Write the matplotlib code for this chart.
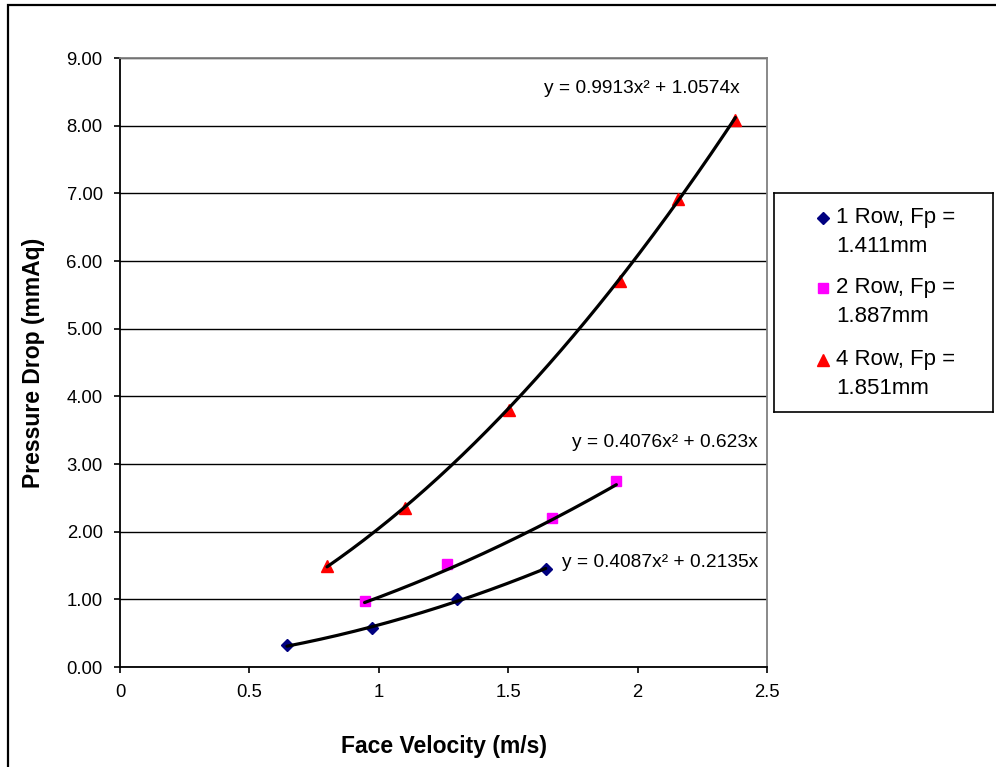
import numpy as np
import matplotlib
matplotlib.use("Agg")
import matplotlib.pyplot as plt
from matplotlib.patches import Rectangle

plt.rcParams['font.family'] = ['Liberation Sans', 'DejaVu Sans']

# Measured pressure drop vs face velocity for three coil configurations
v_1row = [0.645, 0.975, 1.302, 1.645]
dp_1row = [0.32, 0.58, 1.00, 1.45]
v_2row = [0.945, 1.262, 1.670, 1.918]
dp_2row = [0.97, 1.52, 2.20, 2.75]
v_4row = [0.800, 1.100, 1.503, 1.932, 2.157, 2.378]
dp_4row = [1.49, 2.35, 3.80, 5.70, 6.92, 8.08]

series_labels = ["1 Row, Fp =\n1.411mm", "2 Row, Fp =\n1.887mm", "4 Row, Fp =\n1.851mm"]

# Quadratic trendline coefficients (y = a*x^2 + b*x)
fit_1row = (0.4087, 0.2135)
fit_2row = (0.4076, 0.623)
fit_4row = (0.9913, 1.0574)

x_ticks = [0, 0.5, 1, 1.5, 2, 2.5]
x_tick_labels = ["0", "0.5", "1", "1.5", "2", "2.5"]
y_ticks = [0, 1, 2, 3, 4, 5, 6, 7, 8, 9]
y_tick_labels = ["%.2f" % t for t in y_ticks]

W, H = 996, 767
fig = plt.figure(figsize=(W / 100, H / 100), dpi=100)
ax = fig.add_axes([120 / W, 1 - 667 / H, (767 - 120) / W, (667 - 58) / H])

# Outer chart frame (runs off the right and bottom edges)
fig.add_artist(Rectangle((8 / W, -0.2), 1.3, 0.2 + 1 - 5 / H,
                         transform=fig.transFigure, fill=False,
                         edgecolor='black', linewidth=1.6, clip_on=False))

styles = [
    (v_1row, dp_1row, fit_1row, dict(marker='D', color='#000080', markersize=6.2)),
    (v_2row, dp_2row, fit_2row, dict(marker='s', color='#FF00FF', markersize=7.5)),
    (v_4row, dp_4row, fit_4row, dict(marker='^', color='#FF0000', markersize=8.8)),
]

for xs, ys, (a, b), st in styles:
    ax.plot(xs, ys, linestyle='none', marker=st['marker'], color=st['color'],
            markersize=st['markersize'], markeredgecolor=st['color'], zorder=3)
    xx = np.linspace(min(xs), max(xs), 200)
    ax.plot(xx, a * xx ** 2 + b * xx, color='black', linewidth=2.3, zorder=4,
            solid_capstyle='round')

def eq_text(a, b):
    return "y = %gx² + %gx" % (a, b)

ax.text(2.396, 8.556, eq_text(*fit_4row), ha='right', va='center', fontsize=13.8)
ax.text(2.465, 3.325, eq_text(*fit_2row), ha='right', va='center', fontsize=13.8)
ax.text(2.465, 1.537, eq_text(*fit_1row), ha='right', va='center', fontsize=13.8)

ax.set_xlim(0, 2.5)
ax.set_ylim(0, 9)
ax.set_xticks(x_ticks)
ax.set_xticklabels(x_tick_labels)
ax.set_yticks(y_ticks)
ax.set_yticklabels(y_tick_labels)
ax.tick_params(axis='both', direction='out', length=4.5, width=1.2,
               labelsize=13.3, pad=8, color='black')
ax.yaxis.grid(True, color='black', linewidth=1.0)
ax.set_axisbelow(True)

for side in ('left', 'bottom'):
    ax.spines[side].set_color('black')
    ax.spines[side].set_linewidth(1.3)
for side in ('top', 'right'):
    ax.spines[side].set_color('#808080')
    ax.spines[side].set_linewidth(1.3)

ax.set_xlabel("Face Velocity (m/s)", fontsize=16.5, fontweight='bold')
ax.set_ylabel("Pressure Drop (mmAq)", fontsize=16.5, fontweight='bold')
ax.xaxis.set_label_coords(0.5, (667 - 735) / (667 - 58))
ax.yaxis.set_label_coords((45 - 120) / (767 - 120), 0.5)

# Legend box drawn in its own pixel-like coordinate frame
lx0, ly0, lx1, ly1 = 774, 193, 993, 412
lax = fig.add_axes([lx0 / W, 1 - ly1 / H, (lx1 - lx0) / W, (ly1 - ly0) / H])
lax.set_xlim(0, lx1 - lx0)
lax.set_ylim(ly1 - ly0, 0)
lax.set_xticks([])
lax.set_yticks([])
for sp in lax.spines.values():
    sp.set_color('black')
    sp.set_linewidth(1.2)

row_y = [25, 95, 167]
for (xs, ys, fit, st), label, ry in zip(styles, series_labels, row_y):
    lax.plot([49], [ry], linestyle='none', marker=st['marker'], color=st['color'],
             markersize=st['markersize'], markeredgecolor=st['color'])
    first, second = label.split("\n")
    lax.text(62, ry, first, ha='left', va='center', fontsize=16)
    lax.text(62, ry + 28, second, ha='left', va='center', fontsize=16)

fig.savefig("out.png", dpi=100)
